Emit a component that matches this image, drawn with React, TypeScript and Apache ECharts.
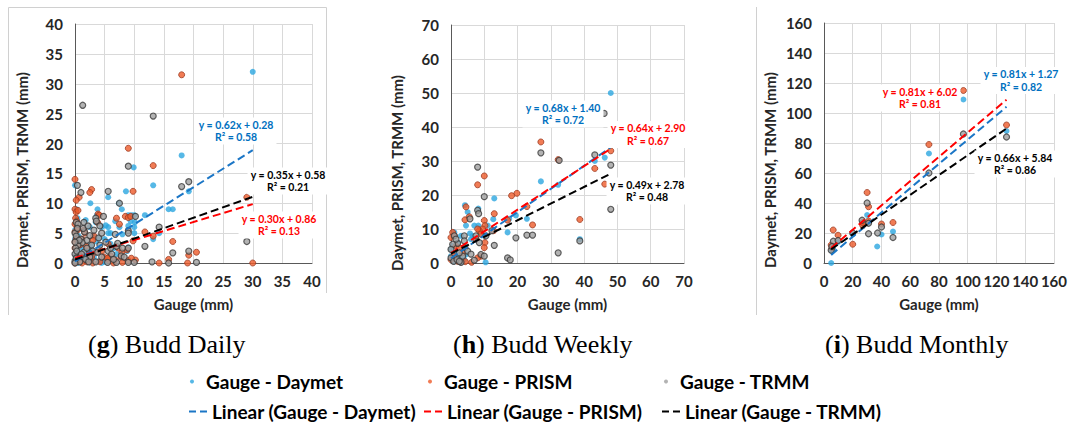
import React, { useEffect, useRef } from "react";
import * as echarts from "echarts";

// ---------- DATA ----------
const dailyDaymet: number[][] = [
  [30, 32], [18, 18], [9.9, 16], [13.2, 13], [8.6, 12], [19.2, 12], [5.6, 11], [0, 13], [2.6, 10], [7.4, 10],
  [15.8, 9], [16.5, 9], [7.9, 9], [3.8, 9], [0.3, 9], [4, 8], [3.7, 8], [9, 8], [9.5, 8], [10, 8], [11.8, 8],
  [9.4, 7], [10.1, 6.8], [10, 6], [9, 6.2], [4.5, 6], [5.6, 6], [5.2, 6.3], [2.5, 6], [1.5, 5.5], [14.2, 5],
  [5.6, 5], [6, 5], [10, 5], [13.2, 4], [4, 4.2], [3, 4.5], [2.7, 3], [6.6, 2.5], [8.8, 2], [9, 2.6], [1.2, 2.5],
  [2, 2], [0.5, 3.5], [0.3, 2], [0.8, 1.5], [1.5, 1], [3.2, 1], [0.2, 0.6], [0, 4], [0, 5.5], [0.6, 4.5], [1, 3],
  [2.2, 0.5], [4, 0.3], [7, 1.5], [6, 3.2], [5, 4], [3.5, 6.8], [1.8, 7.2], [0.4, 7.5], [0, 0], [0.5, 0], [1, 0.2],
  [2.5, 0.1], [4.5, 0], [5, 0.2], [0.1, 1.2], [0.7, 0.3], [2.8, 2.2], [3.6, 3.6], [8, 4.8], [7.5, 6], [6.8, 7],
];
const dailyPrism: number[][] = [
  [18, 31.5], [9, 19.2], [13.2, 16.3], [0, 14], [2.8, 12.3], [2.5, 11.8], [9.8, 12], [29, 11], [0.7, 11], [0.2, 10.5],
  [0, 9], [0.2, 8.5], [3.9, 8.2], [4.1, 8], [0.1, 7.5], [7, 7.5], [7.5, 6.5], [0, 6.5], [0.4, 6], [8.5, 7.8], [9, 7.6],
  [9.4, 7.8], [3.8, 6.8], [1.5, 5.5], [1.7, 5], [11.8, 5.2], [0, 5.2], [0.5, 5.6], [3.2, 4.5], [3, 3.8], [9.8, 3.7],
  [16.5, 3.6], [13.2, 4.5], [5.6, 3.2], [7.3, 2.5], [6, 1.2], [2.3, 1.5], [1, 1.3], [0.3, 1], [19.2, 1.3], [20.5, 1.8],
  [15.8, 0.6], [10.2, 0.5], [9, 0.4], [14.2, 0], [19, 0], [30, 0], [5.6, 0.5], [4.2, 0.2], [2, 0.2], [0.5, 0.3],
  [6.5, 0], [8, 0.1], [1.2, 0], [3, 0], [0, 2.5], [0, 3.5], [0.2, 4], [0.8, 3], [1.9, 2.8], [2.8, 1], [4.5, 2],
  [4.9, 1], [6.8, 0.5], [7.8, 1], [9.5, 0.8], [0.1, 0.1], [0, 0], [0.5, 8.8], [0.3, 7], [1.2, 4], [3.5, 1.8],
  [5.5, 0.8], [7.9, 1.8], [8.8, 2.2],
];
const dailyTrmm: number[][] = [
  [1.3, 26.4], [13.2, 24.6], [9, 16.2], [19.2, 13.6], [18, 12.8], [0.4, 13], [1, 11.8], [5.6, 12], [7.5, 10],
  [10.2, 7.8], [3.5, 7.5], [3.6, 7], [0.2, 6.8], [1.5, 6.8], [0.5, 6.5], [14.2, 6], [9, 5.4], [9, 5], [6.8, 4.8],
  [0, 5], [0.2, 4.5], [1, 4], [2, 3.8], [1.2, 3.4], [2.8, 3], [0.5, 3], [4.2, 3], [7, 2.8], [11.8, 2.8], [0.1, 2.5],
  [9, 2.5], [5.6, 2], [3, 2], [1.5, 1.8], [19.2, 2], [16.5, 1.7], [29, 3.6], [6.2, 1.5], [7.8, 1.2], [8.3, 1],
  [4.5, 1], [2.5, 1], [0.6, 1], [1.8, 0.6], [0, 0.3], [0.8, 0.2], [2.3, 0.2], [3.5, 0.2], [5.5, 0.1], [7, 0.1],
  [9, 0.1], [10, 0.1], [13, 0.2], [15.8, 0], [20.5, 0.1], [0, 1.5], [0.3, 2], [0.7, 3.8], [0, 3.5], [1.6, 5.2],
  [2.5, 4.6], [3.2, 5.5], [4, 4.2], [4.5, 5], [5.2, 3.5], [6, 2.5], [7.2, 3.3], [8, 2.5], [0.2, 0.8], [1.1, 1.5],
  [2, 2.5], [3.8, 1.8], [6.5, 0.6], [0, 0], [0.4, 5.8], [1.4, 5.8], [2.2, 6.2], [4.2, 6.2], [4.8, 7.8],
];

const weeklyDaymet: number[][] = [
  [48, 50], [27, 24], [32.2, 23], [43.2, 30], [46.2, 31], [38.7, 7], [19.5, 14], [22.8, 13], [17, 9], [17.5, 13],
  [13, 19], [8.2, 16], [4.2, 17], [4.5, 11], [10.4, 0.2], [8.2, 11], [7, 11], [12.7, 12.9], [9, 9], [6, 7],
  [5.7, 8.7], [3, 8], [2, 6], [1, 9], [0.5, 5], [0, 4], [1.5, 3], [0.5, 1], [2.8, 2], [4, 1], [4.5, 2.5],
  [10, 8], [6.5, 8], [8.5, 10], [11, 11], [1, 0.5], [0, 2], [2, 1], [3.3, 0.3], [5, 15],
];
const weeklyPrism: number[][] = [
  [27, 35.6], [32.2, 30.4], [43.2, 27.8], [48, 33], [46.2, 23.2], [38.7, 12.8], [19.8, 20.5], [18.2, 19.8],
  [22.8, 16.6], [24.5, 11.2], [17, 12.6], [13, 14.5], [10, 25.6], [8, 23], [4.5, 16.5], [4.2, 12.7], [5.5, 13.6],
  [10, 12.5], [10.2, 11], [9.5, 10], [8.5, 9.5], [8, 10], [9, 8.5], [7.5, 7], [6.2, 0.2], [4.3, 0.4], [2, 0.5],
  [1, 8], [0.5, 9], [0, 7.5], [1.5, 5], [2.5, 4.5], [3.5, 3], [0.8, 2], [0, 1], [10.2, 6], [10, 4.5], [9, 2],
  [8, 1.5], [12.8, 9.5],
];
const weeklyTrmm: number[][] = [
  [46, 44], [27, 32.4], [32.5, 30.2], [43.2, 31.8], [48, 28.8], [48, 15.8], [38.7, 6.5], [32.2, 3], [22.8, 8.2],
  [24.5, 8.2], [19.5, 7.4], [17, 1.5], [17.8, 0.9], [13, 5.2], [12.3, 9.5], [10, 19.5], [8, 28.2], [8, 15.5],
  [8.3, 14.5], [5.7, 13], [7.5, 8], [8.5, 6], [9, 2.5], [10, 2], [10.5, 8], [4, 8], [4, 6.5], [4.2, 4.5], [3.5, 2],
  [2.5, 3], [2, 5.8], [1, 8], [1.5, 7], [0.5, 5.5], [0, 4], [0, 1.5], [0.8, 0.5], [1.8, 1], [3, 0.2], [5, 3.5],
  [6, 2.6], [7, 0.8], [2.5, 0.5],
];

const monthlyDaymet: number[][] = [
  [5, 0], [5.5, 8], [6.5, 9], [9.8, 14], [20, 19], [26.5, 27], [30, 32], [31, 27], [37, 11], [40, 19], [48, 21],
  [73, 73], [97, 109], [127, 88],
];
const monthlyPrism: number[][] = [
  [5, 12], [6.4, 22], [9.8, 18.5], [5.5, 10], [20, 12.5], [27, 25], [27, 27], [30, 47], [31, 37.5], [31, 28],
  [40, 26], [48, 27], [73, 79], [97, 115], [127, 92],
];
const monthlyTrmm: number[][] = [
  [5, 8.5], [6.5, 14.5], [9.8, 15], [5.5, 11], [20, 20], [26.5, 28.5], [30, 40], [31, 26.5], [31, 19.5],
  [37.3, 20], [40, 24], [48, 17], [73, 60], [97, 86], [127, 84],
];

const pointNames = ["Gauge - Daymet", "Gauge - PRISM", "Gauge - TRMM"];
const lineNames = ["Linear (Gauge - Daymet)", "Linear (Gauge - PRISM)", "Linear (Gauge - TRMM)"];

const axisMax = [40, 70, 160];
const axisInterval = [5, 10, 20];
const xTitle = "Gauge (mm)";
const yTitle = "Daymet, PRISM, TRMM (mm)";

// trend lines (slope, intercept, R²) per panel, order Daymet, PRISM, TRMM
const dailySlope = [0.62, 0.3, 0.35];
const dailyIntercept = [0.28, 0.86, 0.58];
const dailyR2 = [0.58, 0.13, 0.21];
const weeklySlope = [0.68, 0.64, 0.49];
const weeklyIntercept = [1.4, 2.9, 2.78];
const weeklyR2 = [0.72, 0.67, 0.48];
const monthlySlope = [0.81, 0.81, 0.66];
const monthlyIntercept = [1.27, 6.02, 5.84];
const monthlyR2 = [0.82, 0.81, 0.86];
const trendRange = [[0, 30], [0, 48], [5, 127]];

const captionLetters = ["g", "h", "i"];
const captionTexts = ["Budd Daily", "Budd Weekly", "Budd Monthly"];

// ---------- STYLE ----------
const FONT = "Lato";
const TEXT = "#262626";
const grids = [
  { left: 75, top: 24, width: 237, height: 239 },
  { left: 451, top: 25, width: 233, height: 238 },
  { left: 824, top: 23, width: 233, height: 240 },
];
const yTitlePos = [[22, 170], [397, 173], [770, 170]];
const pointStyles = [
  { color: "#2CA6E0", borderColor: "#2CA6E0", borderWidth: 0 },
  { color: "#EE5B2B", borderColor: "#9C3B22", borderWidth: 1 },
  { color: "#A0A0A0", borderColor: "#3A3A3A", borderWidth: 1.2 },
];
const lineColors = ["#1B76C6", "#FF0000", "#000000"];
const eqColors = ["#0070C0", "#FF0000", "#000000"];
// equation label centre positions [panel][series] -> [cx, cy]
const eqPos = [
  [[236, 131], [279, 225], [288, 181]],
  [[563, 114], [648, 134.5], [647, 191]],
  [[1021, 80.5], [920, 98], [1015, 164]],
];
const captionLeft = [88, 453, 825];
const legendRowTop = [372, 402];
const legendLeft = [[190, 428, 664], [189, 424, 662]];
const DASH_ICON = "path://M0,0H7V2H0Z M11,0H18V2H11Z";

export default function App() {
  const ref = useRef<HTMLDivElement>(null);
  useEffect(() => {
    if (!ref.current) return;
    const chart = echarts.init(ref.current, undefined, { renderer: "svg" });
    const panelPoints = [
      [dailyDaymet, dailyPrism, dailyTrmm],
      [weeklyDaymet, weeklyPrism, weeklyTrmm],
      [monthlyDaymet, monthlyPrism, monthlyTrmm],
    ];
    const slopes = [dailySlope, weeklySlope, monthlySlope];
    const intercepts = [dailyIntercept, weeklyIntercept, monthlyIntercept];
    const r2s = [dailyR2, weeklyR2, monthlyR2];

    const labelStyle = { fontFamily: FONT, fontWeight: "bold" as const, fontSize: 15, color: TEXT };

    const xAxis = grids.map((_, p) => ({
      gridIndex: p, type: "value", min: 0, max: axisMax[p], interval: axisInterval[p],
      name: xTitle, nameLocation: "middle", nameGap: 33, nameTextStyle: labelStyle,
      axisLine: { show: true, lineStyle: { color: "#595959", width: 1 } },
      axisTick: { show: false },
      axisLabel: { ...labelStyle, margin: 10 },
      splitLine: { show: true, lineStyle: { color: "#D9D9D9", width: 1 } },
    }));
    const yAxis = grids.map((_, p) => ({
      gridIndex: p, type: "value", min: 0, max: axisMax[p], interval: axisInterval[p],
      axisLine: { show: true, lineStyle: { color: "#595959", width: 1 } },
      axisTick: { show: false },
      axisLabel: { ...labelStyle, margin: 12 },
      splitLine: { show: true, lineStyle: { color: "#D9D9D9", width: 1 } },
    }));

    const series: any[] = [];
    const graphics: any[] = [];
    for (let p = 0; p < 3; p++) {
      for (let s = 0; s < 3; s++) {
        series.push({
          type: "scatter", name: pointNames[s], xAxisIndex: p, yAxisIndex: p,
          data: panelPoints[p][s], symbol: "circle", symbolSize: 6,
          itemStyle: pointStyles[s], z: 2, silent: true,
        });
      }
      for (let s = 0; s < 3; s++) {
        const [x0, x1] = trendRange[p];
        const m = slopes[p][s];
        const b = intercepts[p][s];
        series.push({
          type: "line", name: lineNames[s], xAxisIndex: p, yAxisIndex: p,
          data: [[x0, m * x0 + b], [x1, m * x1 + b]], symbol: "none", showSymbol: false,
          lineStyle: { color: lineColors[s], width: 2, type: [8, 4] },
          itemStyle: { color: lineColors[s] }, z: 3, silent: true,
        });
        graphics.push({
          type: "text", x: eqPos[p][s][0], y: eqPos[p][s][1], z: 10,
          style: {
            text: `y = ${m.toFixed(2)}x + ${b.toFixed(2)}\nR² = ${r2s[p][s].toFixed(2)}`,
            fill: eqColors[s], font: `bold 10.5px ${FONT}`, align: "center", verticalAlign: "middle",
            lineHeight: 12.5, backgroundColor: "#ffffff", padding: [1, 3],
          },
        });
      }
      graphics.push({
        type: "text", x: yTitlePos[p][0], y: yTitlePos[p][1], rotation: Math.PI / 2,
        style: {
          text: yTitle, fill: TEXT, font: `bold 15px ${FONT}`, align: "center", verticalAlign: "middle",
        },
      });
      graphics.push({
        type: "text", left: captionLeft[p], top: 331,
        style: {
          text: `({b|${captionLetters[p]}}) ${captionTexts[p]}`,
          fill: "#000", font: `26px "Liberation Serif"`,
          rich: { b: { fontWeight: "bold", fontSize: 26, fontFamily: "Liberation Serif", fill: "#000" } },
        },
      });
    }
    // panel frame lines
    const frame = { stroke: "#D0D0D0", lineWidth: 1 };
    graphics.push({ type: "line", shape: { x1: 8.5, y1: 7.5, x2: 326.5, y2: 7.5 }, style: frame });
    graphics.push({ type: "line", shape: { x1: 8.5, y1: 7.5, x2: 8.5, y2: 315 }, style: frame });
    graphics.push({ type: "line", shape: { x1: 326.5, y1: 7.5, x2: 326.5, y2: 293 }, style: frame });
    graphics.push({ type: "line", shape: { x1: 756.5, y1: 7, x2: 756.5, y2: 315 }, style: frame });

    const legendText = { fontFamily: FONT, fontWeight: "bold" as const, fontSize: 19, color: "#000" };
    const legend: any[] = [];
    for (let s = 0; s < 3; s++) {
      legend.push({
        data: [{ name: pointNames[s], icon: "circle" }], left: legendLeft[0][s], top: legendRowTop[0], padding: 0,
        itemWidth: 18, itemHeight: 4, textStyle: legendText, selectedMode: false,
        itemStyle: { borderWidth: 0 },
      });
      legend.push({
        data: [{ name: lineNames[s], icon: DASH_ICON }], left: legendLeft[1][s], top: legendRowTop[1], padding: 0,
        itemWidth: 18, itemHeight: 2, textStyle: legendText, selectedMode: false,
        itemStyle: { color: lineColors[s], borderWidth: 0 },
      });
    }

    chart.setOption({
      animation: false,
      backgroundColor: "#ffffff",
      grid: grids,
      xAxis,
      yAxis,
      series,
      legend,
      graphic: graphics,
    });
    return () => chart.dispose();
  }, []);
  return (
    <div
      ref={ref}
      style={{ position: "fixed", left: 0, top: 0, width: 1070, height: 427 }}
    />
  );
}
